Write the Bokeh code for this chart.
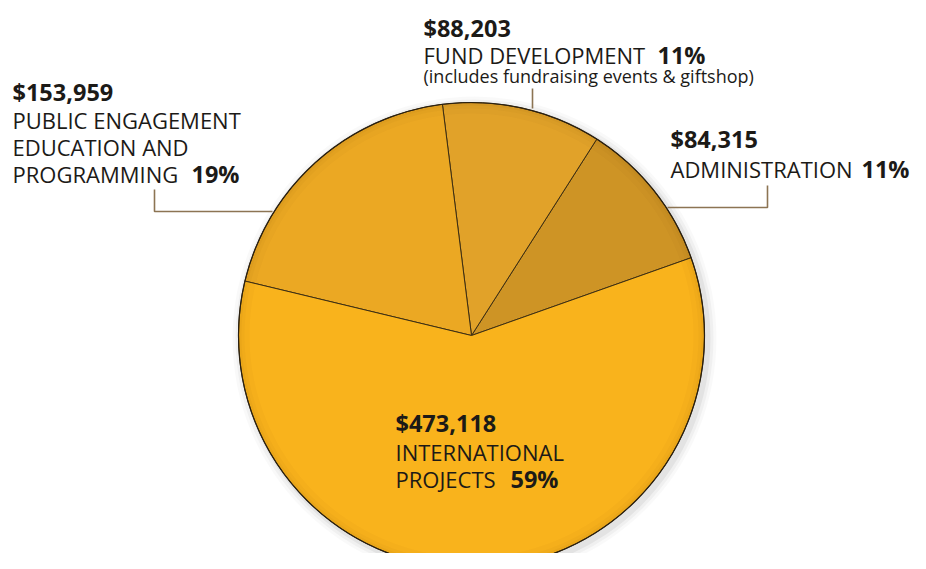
import math
from bokeh.plotting import figure
from bokeh.models import Range1d, ColumnDataSource
from bokeh.core.properties import value
from bokeh.embed import file_html
from bokeh.resources import INLINE

# ---- data ----
categories = ["ADMINISTRATION", "FUND DEVELOPMENT", "PUBLIC ENGAGEMENT", "INTERNATIONAL PROJECTS"]
amounts = [84315, 88203, 153959, 473118]
amount_labels = ["$84,315", "$88,203", "$153,959", "$473,118"]
pct_labels = ["11%", "11%", "19%", "59%"]
colors = ["#CE9425", "#E1A229", "#EBA823", "#F9B31C"]

H = 569
FONT = "Open Sans"
TXT = "#1c1a17"
LEADER = "#8C7453"

p = figure(width=910, height=553, x_range=Range1d(0, 910), y_range=Range1d(16, 569),
           output_backend="svg", toolbar_location=None, min_border=0,
           x_axis_type=None, y_axis_type=None)
p.grid.visible = False
p.outline_line_color = None
p.background_fill_color = "white"

def Y(py):
    return H - py

cx, cy, r = 471, Y(335), 233

# soft shadow
for k, a in [(9, 0.025), (6, 0.035), (3, 0.05)]:
    p.circle(x=cx + 3, y=cy - 3, radius=r + k, fill_color="#000000", fill_alpha=a, line_color=None)

# wedges from data
total = sum(amounts)
start0 = math.radians(19.5)
starts, ends = [], []
acc = start0
for v in amounts:
    starts.append(acc)
    acc += v / total * 2 * math.pi
    ends.append(acc)
src = ColumnDataSource(dict(start=starts, end=ends, color=colors, cat=categories))
p.wedge(x=cx, y=cy, radius=r, start_angle="start", end_angle="end", fill_color="color",
        line_color="#3d2e12", line_width=1, source=src)

# inner edge darkening
for ir, a in [(222, 0.025), (227, 0.03), (230, 0.04)]:
    p.annulus(x=cx, y=cy, inner_radius=ir, outer_radius=r, fill_color="#5a3a00", fill_alpha=a, line_color=None)
p.circle(x=cx, y=cy, radius=r, fill_color=None, line_color="#2a2010", line_width=1.2)

# leader lines
p.line(x=[154, 154, 272], y=[Y(189), Y(211), Y(211)], line_color=LEADER, line_width=1.6)
p.line(x=[532, 532], y=[Y(88), Y(108)], line_color=LEADER, line_width=1.6)
p.line(x=[767, 767, 667], y=[Y(185), Y(207), Y(207)], line_color=LEADER, line_width=1.6)

def txt(x, py, s, size, bold=False):
    p.text(x=[x], y=[Y(py)], text=[s], text_font=value(FONT), text_font_size=f"{size}px",
           text_font_style="bold" if bold else "normal", text_color=TXT,
           text_baseline="alphabetic", text_align="left")

REG = 22
BOLD = 23.5

# Public engagement
txt(12, 91, amount_labels[2], BOLD, True)
txt(12, 119, "PUBLIC ENGAGEMENT", REG)
txt(12, 146, "EDUCATION AND", REG)
txt(12, 173, "PROGRAMMING", REG)
txt(191, 173, pct_labels[2], BOLD, True)

# Fund development
txt(423, 27, amount_labels[1], BOLD, True)
txt(423, 54, "FUND DEVELOPMENT", REG)
txt(657, 54, pct_labels[1], BOLD, True)
txt(423, 75, "(includes fundraising events & giftshop)", 18)

# Administration
txt(670, 138, amount_labels[0], BOLD, True)
txt(670, 168, "ADMINISTRATION", REG)
txt(861, 168, pct_labels[0], BOLD, True)

# International
txt(395, 422, amount_labels[3], BOLD, True)
txt(395, 451, "INTERNATIONAL", REG)
txt(395, 478, "PROJECTS", REG)
txt(510, 478, pct_labels[3], BOLD, True)

open("out.html", "w").write(file_html(p, INLINE))
